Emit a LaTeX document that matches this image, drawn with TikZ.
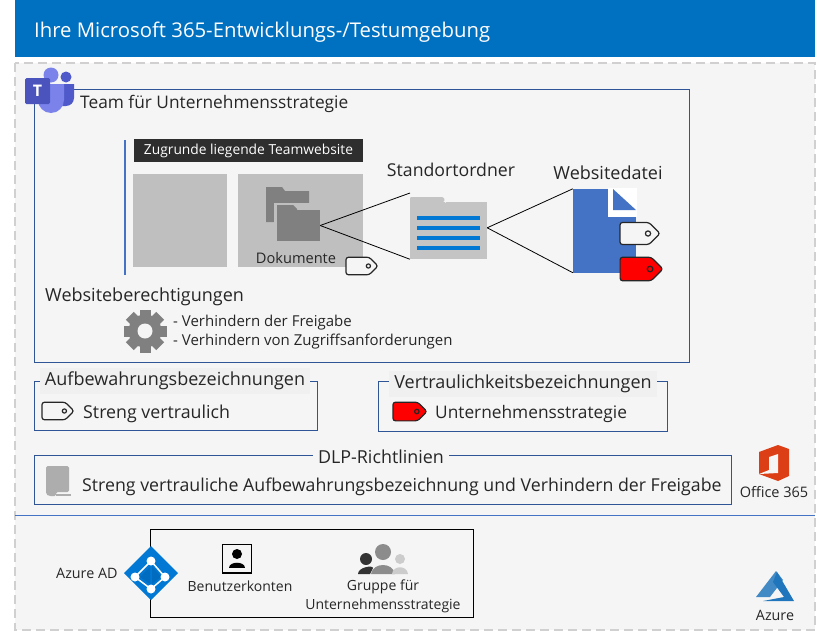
\documentclass[tikz,border=0pt]{standalone}
\usepackage{fontspec}
\setmainfont{Open Sans}
\definecolor{hdblue}{HTML}{0070C0}
\definecolor{pagebg}{HTML}{F5F5F5}
\definecolor{dashgray}{HTML}{D0D0D0}
\definecolor{boxblue}{HTML}{2F5597}
\definecolor{lineblue}{HTML}{4472C4}
\definecolor{tilegray}{HTML}{BFBFBF}
\definecolor{iconblue}{HTML}{0078D4}
\definecolor{inkgray}{HTML}{262626}
\definecolor{teamlight}{HTML}{7B83EB}
\definecolor{teamdark}{HTML}{5059C9}
\definecolor{teamsq}{HTML}{4B53BC}
\definecolor{officered}{HTML}{DC3E15}
\definecolor{azureblue}{HTML}{1F76BC}
\newcommand{\fs}[1]{\fontsize{#1}{#1}\selectfont}
\tikzset{
	every node/.style={inner sep=0pt, text=inkgray},
	txt/.style={anchor=west},
	framebox/.style={draw=boxblue, line width=0.9pt},
	title/.style={fill=pagebg!98!black, inner xsep=5pt, inner ysep=4pt},
	pics/tagicon/.style={code={
		\draw[fill=#1, draw=black!85, line width=1.2pt, rounded corners=2.5pt] (-20,-11) -- (9,-11) -- (20,0) -- (9,11) -- (-20,11) -- cycle;
		\draw[black!85, line width=1.2pt] (8,0) circle (2.6);
	}}
}

\begin{document}
\begin{tikzpicture}[x=1pt, y=-1pt]
	\useasboundingbox (0,0) rectangle (818,634);
	\fill[white] (0,0) rectangle (818,634);
	
	% Header and background
	\fill[hdblue] (15,0) rectangle (815,57);
	\node[txt, text=white] (H) at (34,32) {\fs{20.3}Ihre Microsoft 365-Entwicklungs-/Testumgebung};
	\draw[fill=pagebg, draw=dashgray, line width=2pt, dash pattern=on 9pt off 5pt] (15,63) rectangle (815,630);
	\draw[lineblue, line width=1.1pt] (15,515.5) -- (815,515.5);
	
	% Team frame
	\draw[framebox] (34,89) rectangle (689.5,362);
	\node[txt] (T) at (80,104) {\fs{17.3}Team für Unternehmensstrategie};
	
	% Teams icon
	\fill[teamlight] (51,75) circle (7.5);
	\fill[teamdark] (66,77) circle (5.5);
	\fill[teamdark] (62,84) -- (74,84) -- (74,98) arc[start angle=0, end angle=90, radius=8] -- (62,106) -- cycle;
	\fill[teamlight] (38,84) -- (64,84) -- (64,100) arc[start angle=0, end angle=180, radius=13] -- cycle;
	\fill[teamsq, rounded corners=1.5pt] (25,78) rectangle (50,104);
	\node[text=white] (TT) at (37.5,91) {\fs{16}\bfseries T};
	
	% Site
	\draw[lineblue, line width=1.6pt] (125,140) -- (125,275);
	\node[fill=black!82, text=white, minimum width=229pt, minimum height=23pt] (Z) at (248.5,150.5) {\fs{13.8}Zugrunde liegende Teamwebsite};
	\fill[tilegray] (133,174) rectangle (227,267);
	\fill[tilegray] (238,174) rectangle (363,267);
	
	% Folders
	\fill[black!50] (266,187) -- (282,187) -- (285,191) -- (309,191) -- (309,222) -- (266,222) -- cycle;
	\fill[tilegray] (274,203) rectangle (322,243);
	\node[fill=black!50, minimum width=43pt, minimum height=31pt] (F) at (298.5,225.5) {};
	\fill[black!50] (277,205) -- (293,205) -- (297,209) -- (297,210) -- (277,210) -- cycle;
	\node (D) at (296,258) {\fs{14.6}Dokumente};
	\pic[scale=0.8] at (362,266) {tagicon=pagebg};
	
	% Permissions
	\node[txt] (P) at (45,297) {\fs{18}Websiteberechtigungen};
	\fill[black!50] (145,331) circle (16.5);
	\foreach \a in {0,45,...,315} {
		\fill[black!50, rotate around={\a:(145,331)}] (139.5,309.5) rectangle (150.5,320);
	}
	\fill[pagebg] (145,331) circle (7.5);
	\node[txt] (P1) at (173,323) {\fs{15}- Verhindern der Freigabe};
	\node[txt] (P2) at (173,342) {\fs{15}- Verhindern von Zugriffsanforderungen};
	
	% Location folder
	\node (SL) at (451,170) {\fs{17.7}Standortordner};
	\fill[black!23, rounded corners=1pt] (410,197) -- (443,197) -- (445,200) -- (442,203) -- (410,203) -- cycle;
	\node[fill=black!23, minimum width=77pt, minimum height=57pt] (S) at (448.5,230.5) {};
	\fill[pagebg] (445,203) -- (450,198) -- (445,198) -- cycle;
	\foreach \y in {218,228,238,248} {
		\fill[iconblue] (417,\y-1.8) rectangle (480,\y+1.8);
	}
	\coordinate (SU) at (410,193);
	
	% Site file
	\node (WL) at (608,173) {\fs{18}Websitedatei};
	\node[fill=lineblue, minimum width=63pt, minimum height=83.5pt] (W) at (604.5,230.75) {};
	\fill[white] (607.5,188) rectangle (637,217);
	\fill[lineblue] (613,189) -- (636,210) -- (613,210) -- cycle;
	\pic at (640,233.5) {tagicon=pagebg};
	\pic[scale=1.07] at (641.5,269) {tagicon=red};
	
	% Draw the connectors
	\draw[black, line width=0.8pt] (F.east) -- (SU);
	\draw[black, line width=0.8pt] (F.east) -- (S.south west);
	\draw[black, line width=0.8pt] (S.4) -- (W.north west);
	\draw[black, line width=0.8pt] (S.4) -- (W.south west);
	
	% Label frames
	\draw[framebox] (34,381) rectangle (317,430);
	\node[title] (AB) at (175,381) {\fs{18}Aufbewahrungsbezeichnungen};
	\pic[scale=0.8] at (58,411) {tagicon=pagebg};
	\node[txt] (A1) at (83,414) {\fs{17.8}Streng vertraulich};
	
	\draw[framebox] (378,381) rectangle (667,431);
	\node[title] (VB) at (523,384) {\fs{18}Vertraulichkeitsbezeichnungen};
	\pic[scale=0.85] at (410,411.5) {tagicon=red};
	\node[txt] (V1) at (435,414) {\fs{17.3}Unternehmensstrategie};
	
	% DLP frame
	\draw[framebox] (34,455) rectangle (731,504);
	\node[fill=pagebg, inner xsep=5pt, inner ysep=3pt] (DL) at (381,457) {\fs{17.9}DLP-Richtlinien};
	\fill[black!32, rounded corners=1.5pt] (46,466) -- (69,466) -- (69,492) -- (56,492) -- (56,496) -- (49,496) -- (46,494) -- cycle;
	\fill[black!32] (56,494) rectangle (71,496);
	\node[txt] (D1) at (82,487) {\fs{17.75}Streng vertrauliche Aufbewahrungsbezeichnung und Verhindern der Freigabe};
	
	% Office icon
	\fill[officered] (759,452) -- (778,445) -- (789,449) -- (789,476) -- (778,481) -- (759,474) -- cycle;
	\fill[pagebg] (769,457) -- (778,454) -- (778,473) -- (759,474) -- (769,470) -- cycle;
	\node (O) at (774,492) {\fs{14.5}Office 365};
	
	% Azure AD frame
	\draw[black, line width=0.9pt] (150,529) rectangle (473,617);
	\node[txt] (AD) at (56,573) {\fs{14.3}Azure AD};
	\fill[iconblue] (151,546) -- (178,573) -- (151,600) -- (124,573) -- cycle;
	\draw[white, line width=1.5pt] (151,561) -- (165,577) -- (151,589) -- (135,577) -- cycle;
	\fill[iconblue!90!black] (150,566) -- (150,584) -- (140,577) -- cycle;
	\fill[iconblue!90!black] (152,566) -- (152,584) -- (161,577) -- cycle;
	\foreach \x/\y in {151/561,135/577,165/577,151/589} {
		\fill[white] (\x,\y) circle (4.5);
	}
	
	% User icon
	\draw[black, line width=1.6pt, fill=pagebg] (222.5,544.5) rectangle (251.5,573);
	\fill[black] (237,554) circle (5);
	\fill[black] (229,568) .. controls (229,561) and (245,561) .. (245,568) -- cycle;
	\node (B) at (240,586) {\fs{14}Benutzerkonten};
	
	% Group icon
	\fill[black!80] (366,559) circle (6);
	\fill[black!80] (358,574) .. controls (358,567) and (373,565) .. (373,568) -- (370,574) -- cycle;
	\fill[black!45] (383,552) circle (8);
	\fill[black!45] (371,574) .. controls (373,562) and (393,562) .. (395,574) -- cycle;
	\fill[black!20] (400,559) circle (5);
	\fill[black!20] (392,574) .. controls (393,565) and (407,565) .. (408,574) -- cycle;
	\node[align=center] (G) at (383,596.5) {\fs{14}Gruppe für\\[4pt]\fs{14}Unternehmensstrategie};
	
	% Azure icon
	\fill[azureblue!85] (776,571) -- (756,597) -- (770,597) -- (783,580) -- cycle;
	\fill[azureblue] (777,572) -- (794,601) -- (763,601) -- (784,597) -- (773,582) -- cycle;
	\node (AZ) at (775,615) {\fs{14.3}Azure};
\end{tikzpicture}
\end{document}
